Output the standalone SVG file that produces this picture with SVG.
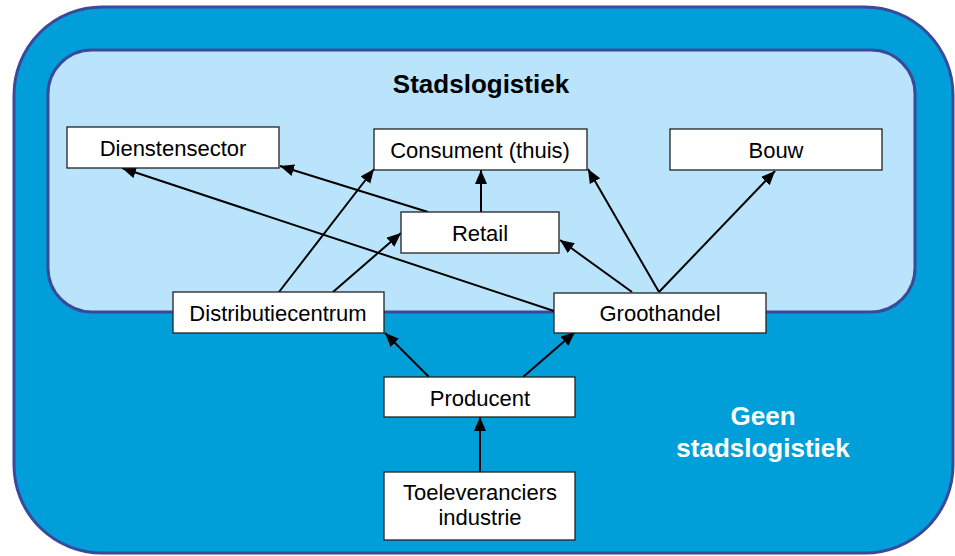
<svg xmlns="http://www.w3.org/2000/svg" width="955" height="556" viewBox="0 0 955 556">
<style>
.zone-outer{fill:#009FDA;stroke:#3A4A9A;stroke-width:3}
.zone-inner{fill:#B9E4FC;stroke:#3A4A9A;stroke-width:3}
.box{fill:#FFFFFF;stroke:#222222;stroke-width:1.3}
.lbl{font-family:"Liberation Sans",Arial,sans-serif;font-size:22px;fill:#000;text-anchor:middle}
.title{font-family:"Liberation Sans",Arial,sans-serif;font-size:26px;font-weight:bold;text-anchor:middle}
.edge{stroke:#000;stroke-width:2;fill:none;marker-end:url(#arr)}
</style>
<defs>
<marker id="arr" markerUnits="userSpaceOnUse" markerWidth="16" markerHeight="14" refX="14" refY="6" orient="auto">
<path d="M0,0 L14,6 L0,12 Z" fill="#000"/>
</marker>
</defs>
<rect class="zone-outer" x="14" y="7" width="939" height="546" rx="88" ry="88"/>
<rect class="zone-inner" x="48" y="50" width="867" height="262" rx="44" ry="44"/>
<text class="title" x="481" y="93" fill="#000">Stadslogistiek</text>
<text class="title" x="763" y="425" fill="#FFFFFF">Geen</text>
<text class="title" x="763" y="457" fill="#FFFFFF">stadslogistiek</text>
<g id="connectors">
<line class="edge" x1="428" y1="212" x2="280" y2="166"/>
<line class="edge" x1="554" y1="311" x2="122" y2="168"/>
<line class="edge" x1="279" y1="292" x2="374" y2="169"/>
<line class="edge" x1="333" y1="292" x2="401" y2="233"/>
<line class="edge" x1="481" y1="212" x2="481" y2="170"/>
<line class="edge" x1="632" y1="292" x2="560" y2="240"/>
<line class="edge" x1="659" y1="292" x2="588" y2="169"/>
<line class="edge" x1="659" y1="292" x2="775" y2="171"/>
<line class="edge" x1="429" y1="377" x2="385" y2="333"/>
<line class="edge" x1="523" y1="377" x2="575" y2="332"/>
<line class="edge" x1="480" y1="472" x2="480" y2="417"/>
</g>
<g id="dienstensector"><rect class="box" x="67" y="127" width="212" height="41"/><text class="lbl" x="173" y="156">Dienstensector</text></g>
<g id="consument"><rect class="box" x="374" y="129" width="213" height="41"/><text class="lbl" x="480" y="158">Consument (thuis)</text></g>
<g id="bouw"><rect class="box" x="670" y="129" width="212" height="41"/><text class="lbl" x="776" y="158">Bouw</text></g>
<g id="retail"><rect class="box" x="401" y="212" width="158" height="41"/><text class="lbl" x="480" y="241">Retail</text></g>
<g id="distributiecentrum"><rect class="box" x="173" y="292" width="211" height="41"/><text class="lbl" x="278" y="321">Distributiecentrum</text></g>
<g id="groothandel"><rect class="box" x="554" y="293" width="212" height="40"/><text class="lbl" x="660" y="321">Groothandel</text></g>
<g id="producent"><rect class="box" x="384" y="377" width="191" height="40"/><text class="lbl" x="480" y="406">Producent</text></g>
<g id="toeleveranciers"><rect class="box" x="384" y="472" width="191" height="68"/><text class="lbl" x="480" y="500">Toeleveranciers</text><text class="lbl" x="480" y="525">industrie</text></g>
</svg>
